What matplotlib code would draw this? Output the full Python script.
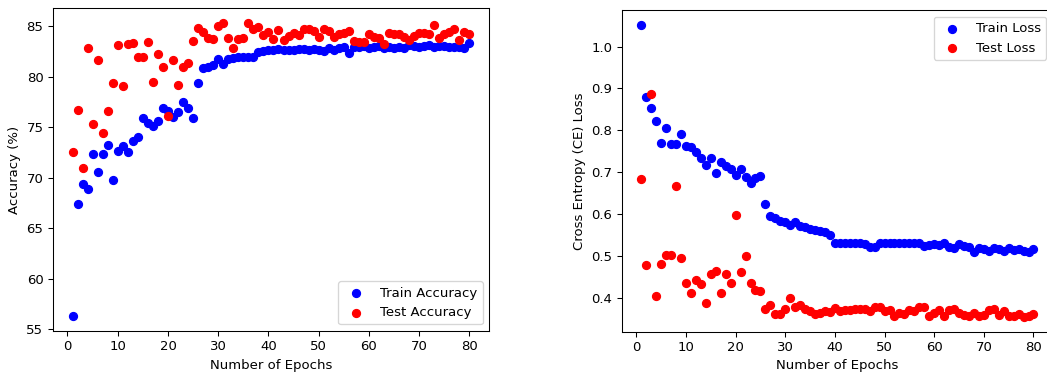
import numpy as np
import matplotlib
matplotlib.use("Agg")
import matplotlib.pyplot as plt

epochs = np.arange(1, 81)

train_acc = [56.3, 67.45, 69.4, 68.9, 72.3, 70.6, 72.3, 73.2, 69.8, 72.6,
             73.1, 72.5, 73.65, 74.0, 75.9, 75.4, 75.1, 75.65, 76.9, 76.6,
             76.0, 76.5, 77.5, 76.9, 75.9, 79.35, 80.8, 80.9, 81.15, 81.7,
             81.2, 81.7, 81.8, 81.9, 81.9, 81.9, 81.9, 82.4, 82.5, 82.6,
             82.6, 82.7, 82.6, 82.6, 82.6, 82.7, 82.7, 82.6, 82.7, 82.6,
             82.5, 82.8, 82.6, 82.8, 82.9, 82.3, 82.9, 82.9, 83.0, 82.8,
             82.9, 83.0, 82.8, 82.9, 82.8, 82.9, 82.8, 83.1, 83.0, 82.9,
             83.0, 83.1, 82.9, 83.0, 83.0, 82.9, 82.9, 82.9, 82.8, 83.35]

test_acc = [72.5, 76.7, 71.0, 82.8, 75.35, 81.6, 74.4, 76.6, 79.35, 83.1,
            79.1, 83.2, 83.3, 81.9, 81.9, 83.4, 79.5, 82.2, 80.9, 76.1,
            81.65, 79.2, 80.9, 81.3, 83.55, 84.8, 84.4, 83.85, 83.7, 85.0,
            85.3, 83.85, 82.8, 83.75, 83.85, 85.25, 84.7, 84.85, 84.1, 84.4,
            83.7, 84.6, 83.6, 84.0, 84.3, 84.1, 84.7, 84.7, 84.5, 83.95,
            84.7, 84.5, 83.95, 84.2, 84.35, 84.45, 83.5, 83.4, 83.4, 84.2,
            83.95, 83.8, 83.2, 84.35, 84.2, 84.2, 83.9, 83.6, 84.0, 84.3,
            84.3, 84.2, 85.05, 83.85, 84.2, 84.4, 84.65, 83.6, 84.4, 84.2]

train_loss = [1.052, 0.880, 0.853, 0.823, 0.769, 0.805, 0.768, 0.768, 0.791, 0.762,
              0.760, 0.748, 0.735, 0.718, 0.735, 0.699, 0.725, 0.715, 0.707, 0.693,
              0.708, 0.689, 0.674, 0.685, 0.691, 0.625, 0.596, 0.590, 0.584, 0.580,
              0.574, 0.580, 0.572, 0.570, 0.564, 0.562, 0.559, 0.558, 0.550, 0.530,
              0.530, 0.531, 0.531, 0.532, 0.530, 0.528, 0.522, 0.522, 0.532, 0.530,
              0.530, 0.530, 0.530, 0.531, 0.530, 0.531, 0.530, 0.524, 0.526, 0.528,
              0.526, 0.532, 0.522, 0.518, 0.528, 0.524, 0.522, 0.510, 0.518, 0.5165,
              0.5125, 0.518, 0.516, 0.5125, 0.518, 0.514, 0.516, 0.5125, 0.510, 0.516]

test_loss = [0.684, 0.479, 0.886, 0.404, 0.481, 0.502, 0.503, 0.666, 0.496, 0.436,
             0.411, 0.442, 0.433, 0.388, 0.458, 0.464, 0.411, 0.457, 0.436, 0.597,
             0.461, 0.500, 0.436, 0.418, 0.417, 0.373, 0.382, 0.362, 0.362, 0.373,
             0.399, 0.379, 0.384, 0.373, 0.368, 0.362, 0.365, 0.369, 0.367, 0.375,
             0.3675, 0.371, 0.371, 0.373, 0.373, 0.373, 0.3675, 0.377, 0.377, 0.3675,
             0.371, 0.357, 0.364, 0.362, 0.370, 0.3675, 0.377, 0.379, 0.357, 0.365,
             0.370, 0.357, 0.371, 0.373, 0.365, 0.360, 0.357, 0.365, 0.356, 0.360,
             0.371, 0.373, 0.360, 0.3675, 0.357, 0.356, 0.361, 0.354, 0.357, 0.362]

# the reference looks like it was rendered slightly smaller than 100 dpi
dpi = 95
fig = plt.figure(figsize=(1047 / dpi, 374 / dpi), dpi=dpi)

# left panel: accuracy
ax1 = fig.add_axes([0.0503, 0.115, 0.417, 0.863])
ax1.scatter(epochs, train_acc, color='blue', label='Train Accuracy')
ax1.scatter(epochs, test_acc, color='red', label='Test Accuracy')
ax1.set_xlabel("Number of Epochs")
ax1.set_ylabel("Accuracy (%)")
ax1.legend(loc='lower right')

# right panel: loss
ax2 = fig.add_axes([0.5938, 0.113, 0.412, 0.860])
ax2.scatter(epochs, train_loss, color='blue', label='Train Loss')
ax2.scatter(epochs, test_loss, color='red', label='Test Loss')
ax2.set_xlabel("Number of Epochs")
ax2.set_ylabel("Cross Entropy (CE) Loss")
ax2.legend(loc='upper right')

plt.savefig('out.png', dpi=dpi)
